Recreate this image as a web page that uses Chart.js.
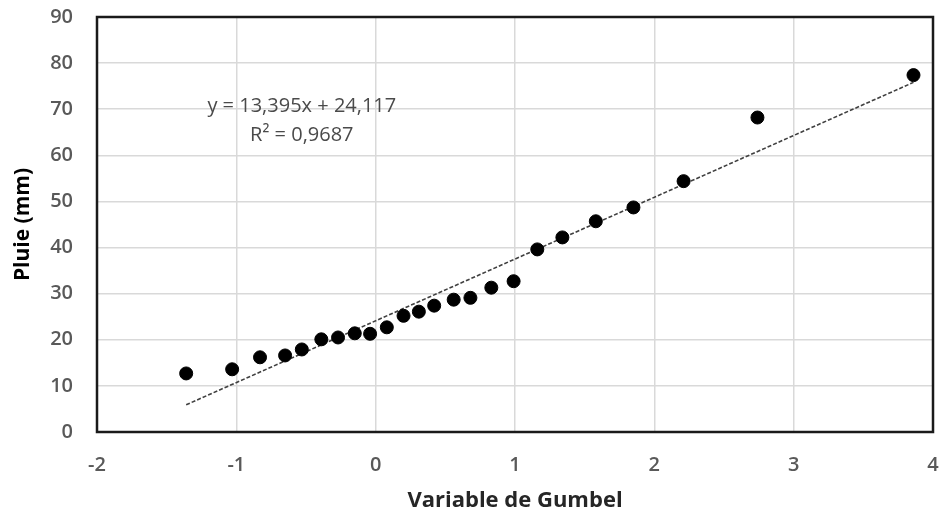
<!DOCTYPE html>
<html>
<head>
<meta charset="utf-8">
<script src="https://cdn.jsdelivr.net/npm/chart.js@4/dist/chart.umd.min.js"></script>
<style>
  html, body { margin: 0; padding: 0; background: #fff; }
  #wrap { width: 944px; height: 518px; }
</style>
</head>
<body>
<div id="wrap"><canvas id="chart"></canvas></div>
<script>
const gumbelX = [-1.36, -1.03, -0.83, -0.65, -0.53, -0.39, -0.27, -0.15, -0.04, 0.08,
  0.20, 0.31, 0.42, 0.56, 0.68, 0.83, 0.99, 1.16, 1.34, 1.58, 1.85, 2.21, 2.74, 3.86];
const pluie = [12.7, 13.6, 16.2, 16.6, 17.9, 20.1, 20.5, 21.4, 21.3, 22.7,
  25.2, 26.1, 27.4, 28.7, 29.1, 31.3, 32.7, 39.6, 42.2, 45.7, 48.7, 54.4, 68.2, 77.4];

// trendline as printed on the chart
const slope = 13.395;
const intercept = 24.117;
const eqLines = ['y = 13,395x + 24,117', 'R² = 0,9687'];

const xTicks = [-2, -1, 0, 1, 2, 3, 4];
const yTicks = [0, 10, 20, 30, 40, 50, 60, 70, 80, 90];

const points = gumbelX.map((x, i) => ({ x: x, y: pluie[i] }));
const xMin = Math.min(...gumbelX), xMax = Math.max(...gumbelX);
const trend = [xMin, xMax].map(x => ({ x: x, y: slope * x + intercept }));

const tickFont = { family: 'Open Sans', size: 20, weight: '600' };

// frame + equation text
const extras = {
  id: 'extras',
  afterDatasetsDraw(chart) {
    const { ctx, chartArea: a, scales } = chart;
    ctx.save();
    ctx.strokeStyle = '#1a1a1a';
    ctx.lineWidth = 2.5;
    ctx.strokeRect(a.left, a.top, a.right - a.left, a.bottom - a.top);

    ctx.fillStyle = '#4a4a4a';
    ctx.font = '20px "Open Sans", sans-serif';
    ctx.textAlign = 'center';
    ctx.textBaseline = 'middle';
    const cx = scales.x.getPixelForValue(-0.53);
    ctx.fillText(eqLines[0], cx, scales.y.getPixelForValue(70.6));
    ctx.fillText(eqLines[1], cx, scales.y.getPixelForValue(64.4));
    ctx.restore();
  }
};

new Chart(document.getElementById('chart'), {
  type: 'scatter',
  data: {
    datasets: [{
      label: 'Pluie',
      data: points,
      backgroundColor: '#000',
      borderColor: '#000',
      pointRadius: 6.5,
      pointHoverRadius: 6.5
    }, {
      label: 'Tendance',
      data: trend,
      showLine: true,
      borderColor: '#404040',
      borderWidth: 1.6,
      borderDash: [4, 2],
      pointRadius: 0,
      fill: false
    }]
  },
  options: {
    responsive: true,
    maintainAspectRatio: false,
    animation: false,
    layout: { padding: { top: 17, right: 11, left: 0, bottom: 0 } },
    plugins: { legend: { display: false }, tooltip: { enabled: false } },
    scales: {
      x: {
        min: -2, max: 4,
        afterBuildTicks: s => { s.ticks = xTicks.map(v => ({ value: v })); },
        afterFit: s => { s.height = 86; s.paddingLeft = 0; s.paddingRight = 0; },
        grid: { color: '#d9d9d9', lineWidth: 1.5, drawTicks: false },
        border: { display: false },
        ticks: { color: '#595959', font: tickFont, padding: 21 },
        title: {
          display: true, text: 'Variable de Gumbel', color: '#262626',
          font: { family: 'Open Sans', size: 22, weight: 'bold' }, padding: { top: 4 }
        }
      },
      y: {
        min: 0, max: 90,
        afterBuildTicks: s => { s.ticks = yTicks.map(v => ({ value: v })); },
        afterFit: s => { s.width = 97; s.paddingTop = 0; s.paddingBottom = 0; },
        grid: { color: '#d9d9d9', lineWidth: 1.5, drawTicks: false },
        border: { display: false },
        ticks: { color: '#595959', font: tickFont, padding: 24 },
        title: {
          display: true, text: 'Pluie (mm)', color: '#000',
          font: { family: 'Open Sans', size: 21, weight: 'bold' }, padding: { top: 10, bottom: 0 }
        }
      }
    }
  },
  plugins: [extras]
});
</script>
</body>
</html>
